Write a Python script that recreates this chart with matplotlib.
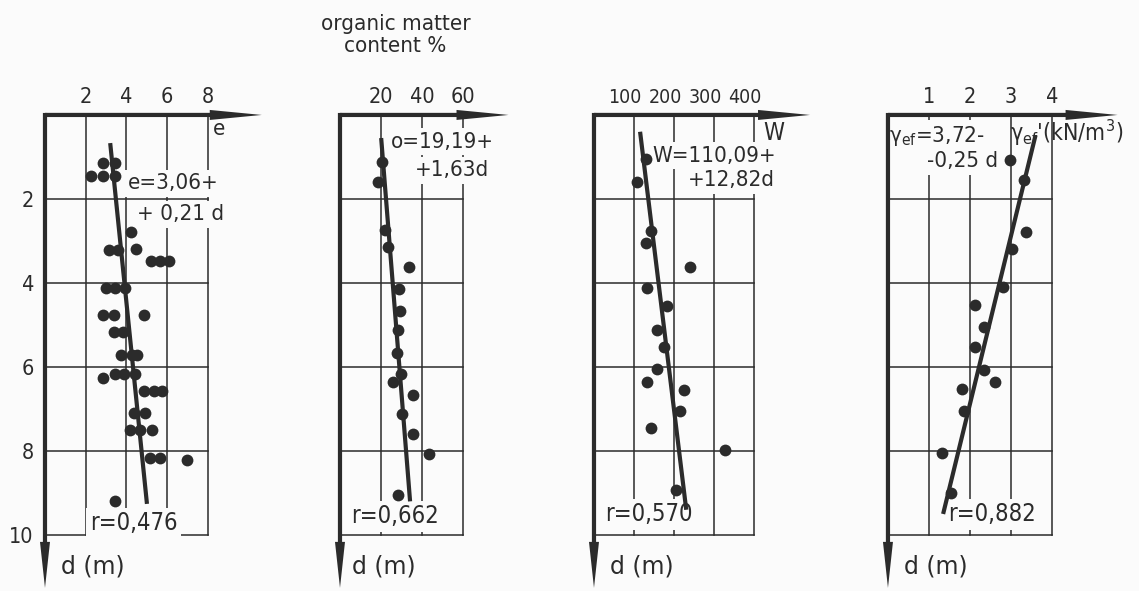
import matplotlib.pyplot as plt
from matplotlib.patches import FancyArrow
from matplotlib.transforms import ScaledTranslation

plt.rcParams['font.family'] = ['DejaVu Sans']
plt.rcParams['font.stretch'] = 'condensed'

# --- measurements: depth d (m) and value at that depth ---
d_e = [1.14, 1.14, 1.46, 1.46, 1.46, 2.78, 3.22, 3.22, 3.18, 3.48, 3.48, 3.48,
       4.11, 4.11, 4.11, 4.76, 4.76, 4.76, 5.16, 5.16, 5.71, 5.71, 5.71,
       6.27, 6.16, 6.16, 6.16, 6.58, 6.58, 6.58, 7.10, 7.10, 7.49, 7.49, 7.49,
       8.17, 8.17, 8.21, 9.20]
e_vals = [2.87, 3.45, 2.25, 2.84, 3.45, 4.22, 3.12, 3.56, 4.48, 5.20, 5.63, 6.07,
          3.00, 3.45, 3.94, 2.84, 3.40, 4.88, 3.37, 3.83, 3.73, 4.27, 4.52,
          2.84, 3.45, 3.89, 4.43, 4.88, 5.34, 5.75, 4.35, 4.93, 4.19, 4.68, 5.25,
          5.17, 5.63, 6.98, 3.45]

d_org = [1.12, 1.60, 2.74, 3.14, 3.62, 4.15, 4.66, 5.13, 5.67, 6.16, 6.36,
         6.67, 7.12, 7.59, 8.07, 9.06]
org_vals = [20.3, 18.4, 21.9, 23.3, 33.5, 28.8, 29.4, 28.5, 27.8, 29.8, 25.9,
            35.8, 30.1, 35.5, 43.6, 28.1]

d_w = [1.04, 1.60, 2.76, 3.04, 3.63, 4.13, 4.56, 5.13, 5.53, 6.05, 6.35,
       6.54, 7.06, 7.45, 7.98, 8.92]
w_vals = [131, 107, 142, 131, 240, 132, 183, 158, 174, 157, 133,
          225, 216, 143, 327, 206]

d_gam = [1.08, 1.54, 2.78, 3.18, 4.09, 4.53, 5.04, 5.53, 6.08, 6.35, 6.53,
         7.06, 8.06, 9.00]
gam_vals = [2.98, 3.32, 3.37, 3.03, 2.80, 2.13, 2.34, 2.13, 2.35, 2.62, 1.80,
            1.86, 1.33, 1.53]

# --- linear fits: value = a + b*d, drawn over the depth span given ---
fit_a = [3.06, 19.19, 110.09, 3.72]
fit_b = [0.21, 1.63, 12.82, -0.25]
fit_r = [0.476, 0.662, 0.570, 0.882]
fit_span = [(0.67, 9.26), (0.55, 9.2), (0.4, 9.4), (0.48, 9.5)]

x_ticks = [[2, 4, 6, 8], [20, 40, 60], [100, 200, 300, 400], [1, 2, 3, 4]]
d_ticks = [2, 4, 6, 8, 10]

ink = '#2b2b2b'
paper = '#fbfbfb'
fs = 16
W_PX, H_PX = 1139, 591


def num(v):
    return f"{abs(v):.2f}".replace('.', ',')


def rtext(r):
    return f"r={r:.3f}".replace('.', ',')


fig = plt.figure(figsize=(W_PX / 100, H_PX / 100), dpi=100, facecolor=paper)

boxes = [[0.0395, 0.0948, 0.1431, 0.7107],
         [0.2985, 0.0948, 0.1080, 0.7107],
         [0.5215, 0.0948, 0.1405, 0.7107],
         [0.7796, 0.0948, 0.1440, 0.7107]]
arrow_len = [1.33, 1.37, 1.35, 1.40]
tick_fs = [15.5, 15.5, 14, 15.5]
tick_shift = [0, 0, -9, 0]     # px, nudges the crowded W labels left
series = [(e_vals, d_e), (org_vals, d_org), (w_vals, d_w), (gam_vals, d_gam)]

axes = []
for i, box in enumerate(boxes):
    ax = fig.add_axes(box)
    ax.set_facecolor('none')
    ax.set_xlim(0, x_ticks[i][-1])
    ax.set_ylim(10, 0)
    for s in ax.spines.values():
        s.set_visible(False)
    wpx, hpx = box[2] * W_PX, box[3] * H_PX

    ax.xaxis.tick_top()
    ax.set_xticks(x_ticks[i])
    ax.set_xticklabels([str(t) for t in x_ticks[i]])
    ax.tick_params(axis='x', length=0, pad=6, labelsize=tick_fs[i], colors=ink)
    if tick_shift[i]:
        off = ScaledTranslation(tick_shift[i] / 100, 0, fig.dpi_scale_trans)
        for lab in ax.get_xticklabels():
            lab.set_transform(lab.get_transform() + off)
    ax.set_yticks(d_ticks)
    if i == 0:
        ax.set_yticklabels([str(t) for t in d_ticks])
        ax.tick_params(axis='y', length=0, pad=8, labelsize=15.5, colors=ink)
    else:
        ax.set_yticklabels([])
        ax.tick_params(axis='y', length=0)

    # thin grid, the last tick of each direction closes the frame
    for v in x_ticks[i]:
        ax.axvline(v, color=ink, lw=1.1, zorder=1, clip_on=False)
    for h in d_ticks:
        ax.axhline(h, color=ink, lw=1.1, zorder=1, clip_on=False)

    # heavy axes with long narrow arrowheads (sizes in px, converted to axes units)
    ax.add_patch(FancyArrow(0, 1, arrow_len[i], 0, width=4.2 / hpx,
                            head_width=10 / hpx, head_length=52 / wpx,
                            length_includes_head=True, transform=ax.transAxes,
                            color=ink, lw=0, clip_on=False, zorder=6))
    ax.add_patch(FancyArrow(0, 1 + 2 / hpx, 0, -(1.126 + 2 / hpx), width=4.2 / wpx,
                            head_width=10 / wpx, head_length=46 / hpx,
                            length_includes_head=True, transform=ax.transAxes,
                            color=ink, lw=0, clip_on=False, zorder=6))

    # regression line
    d0, d1 = fit_span[i]
    a, b = fit_a[i], fit_b[i]
    ax.plot([a + b * d0, a + b * d1], [d0, d1], color=ink, lw=3,
            solid_capstyle='butt', zorder=4, clip_on=False)

    xs, ds = series[i]
    ax.plot(xs, ds, 'o', ms=8.5, color=ink, mec='none', zorder=5, clip_on=False)

    ax.text(0.1, -0.075, 'd (m)', transform=ax.transAxes, fontsize=17,
            color=ink, ha='left', va='center', stretch='normal')
    axes.append(ax)

txt = dict(fontsize=fs, color=ink, va='center', ha='left', zorder=3)
rtxt = dict(fontsize=17, color=ink, va='center', ha='left', zorder=3)
wbox = dict(facecolor=paper, edgecolor='none', pad=2.5)

# equations, correlation coefficients and axis names
ax1, ax2, ax3, ax4 = axes
ax1.text(4.09, 1.63, f"e={num(fit_a[0])}+", bbox=wbox, **txt)
ax1.text(4.53, 2.36, f"+ {num(fit_b[0])} d", bbox=wbox, **txt)
ax1.text(2.2, 9.72, rtext(fit_r[0]), bbox=wbox, **rtxt)
ax1.text(8.25, 0.33, 'e', **txt)

ax2.text(24.9, 0.64, f"o={num(fit_a[1])}+", bbox=wbox, **txt)
ax2.text(36.6, 1.32, f"+{num(fit_b[1])}d", bbox=wbox, **txt)
ax2.text(5.4, 9.56, rtext(fit_r[1]), bbox=wbox, **rtxt)
ax2.text(0.45, 1.24, 'organic matter\ncontent %', transform=ax2.transAxes,
         fontsize=16, color=ink, ha='center', va='top', linespacing=1.1)

ax3.text(147, 0.97, f"W={num(fit_a[2])}+", bbox=wbox, **txt)
ax3.text(235, 1.56, f"+{num(fit_b[2])}d", bbox=wbox, **txt)
ax3.text(27, 9.51, rtext(fit_r[2]), bbox=wbox, **rtxt)
ax3.text(422, 0.42, 'W', fontsize=17, color=ink, va='center', ha='left')

ax4.text(0.02, 0.49, r"γ$_{\mathrm{ef}}$=" + f"{num(fit_a[3])}-", bbox=wbox, **txt)
ax4.text(0.95, 1.1, f"-{num(fit_b[3])} d", bbox=wbox, **txt)
ax4.text(1.46, 9.51, rtext(fit_r[3]), bbox=wbox, **rtxt)
ax4.text(2.97, 0.42, r"γ$_{\mathrm{ef}}$'(kN/m$^{3}$)", fontsize=16.5, color=ink,
         va='center', ha='left', zorder=3)

fig.savefig('out.png', dpi=100, facecolor=paper)
